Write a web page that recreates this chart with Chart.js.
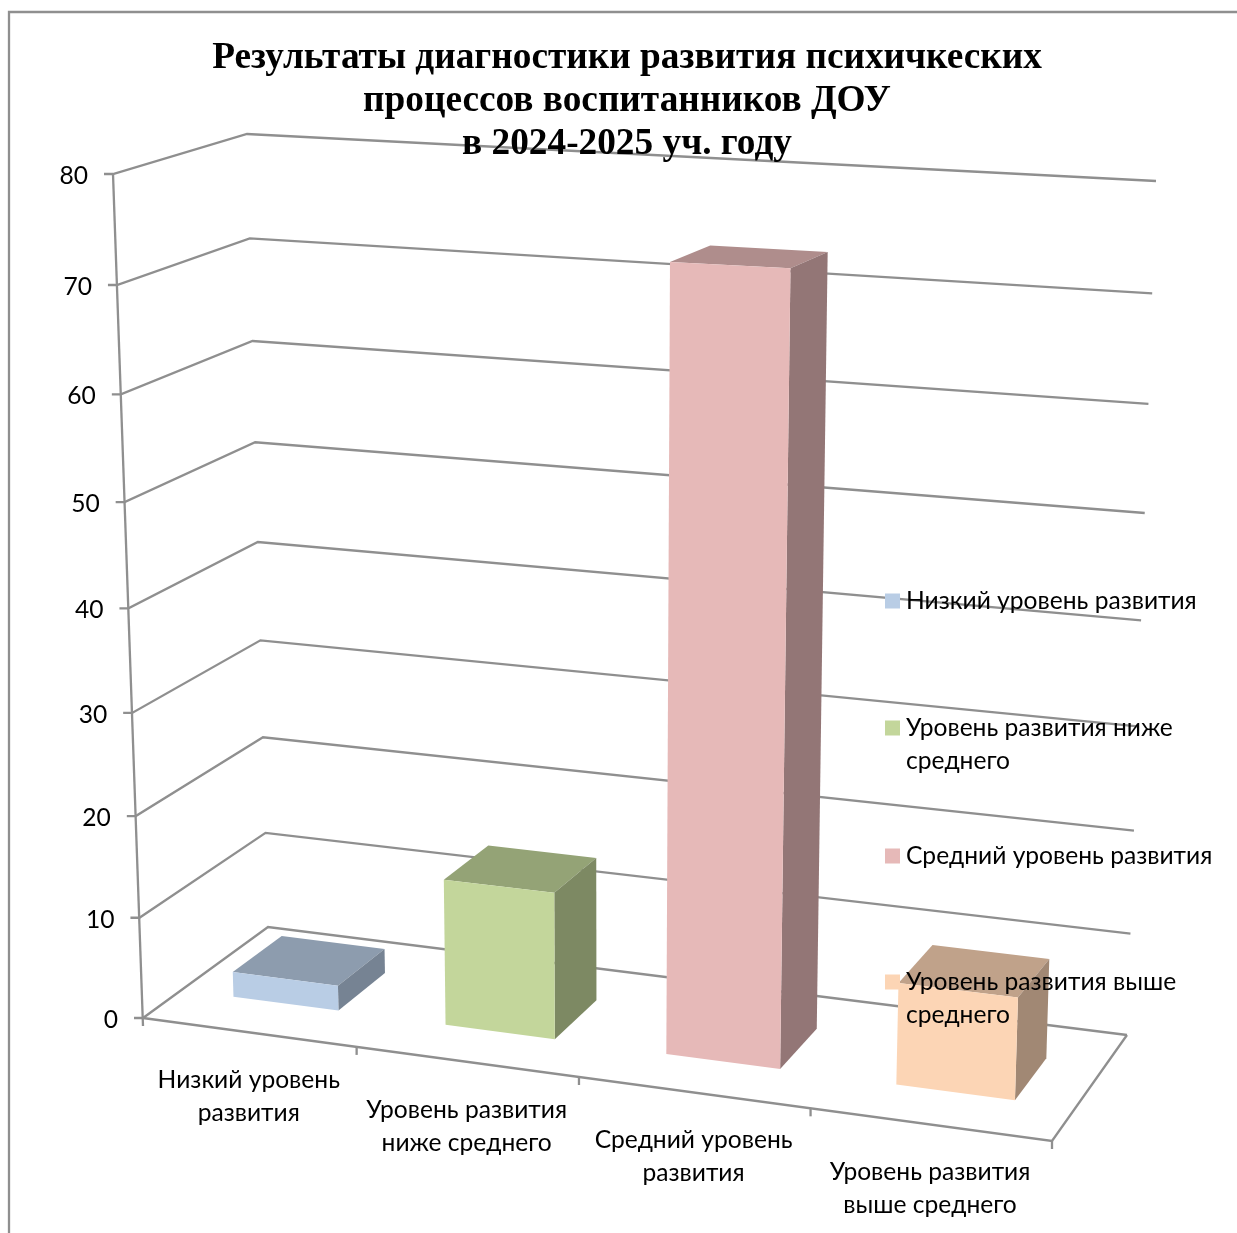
<!DOCTYPE html>
<html>
<head>
<meta charset="utf-8">
<style>html,body{margin:0;padding:0;background:#fff}canvas{display:block}</style>
<script src="https://cdn.jsdelivr.net/npm/chart.js@4"></script>
</head>
<body>
<canvas id="c" width="1237" height="1233"></canvas>
<script>
const titleLines = ['Результаты диагностики развития психичкеских', 'процессов воспитанников ДОУ', 'в 2024-2025 уч. году'];
const categories = [['Низкий уровень', 'развития'], ['Уровень развития', 'ниже среднего'], ['Средний уровень', 'развития'], ['Уровень развития', 'выше среднего']];
const values = [2.5, 14.3, 73.2, 9.6];
const legendLines = [['Низкий уровень развития'], ['Уровень развития ниже', 'среднего'], ['Средний уровень развития'], ['Уровень развития выше', 'среднего']];
const barColors = ['#B9CDE5', '#C3D69B', '#E6B9B8', '#FCD5B5'];

const LABEL_FONT = '24.6px Lato';
const LINE = '#8f8f8f';
// Corners of the 3D box as seen in the picture: [u][v][d]
const corners = {
  '000': [143, 1018], '010': [113, 174], '001': [268, 927], '011': [247, 134],
  '100': [1052, 1141], '110': [1083, 213], '101': [1127, 1035], '111': [1156, 181]
};
const warp = (t, k) => t / (1 + k * (1 - t));
function project(u, v, d) {
  const U = warp(u, 0.085), V = warp(v, 0.06), D = d;
  let x = 0, y = 0;
  for (const key in corners) {
    const w = (key[0] === '1' ? U : 1 - U) * (key[1] === '1' ? V : 1 - V) * (key[2] === '1' ? D : 1 - D);
    x += w * corners[key][0]; y += w * corners[key][1];
  }
  return [x, y];
}
function poly(ctx, pts, fill) {
  ctx.beginPath();
  pts.forEach((p, i) => i ? ctx.lineTo(p[0], p[1]) : ctx.moveTo(p[0], p[1]));
  ctx.closePath();
  ctx.fillStyle = fill; ctx.fill();
}
function shade(hex, f) {
  const n = parseInt(hex.slice(1), 16);
  return `rgb(${Math.round((n >> 16) * f)},${Math.round(((n >> 8) & 255) * f)},${Math.round((n & 255) * f)})`;
}
const D0 = 0.31, D1 = 0.71;

const box3d = {
  id: 'box3d',
  beforeDraw(chart) {
    const { ctx, scales: { x, y }, chartArea: a } = chart;
    const vOf = val => (a.bottom - y.getPixelForValue(val)) / a.height;
    ctx.save();
    ctx.fillStyle = '#fff'; ctx.fillRect(0, 0, chart.width, chart.height);
    ctx.strokeStyle = LINE; ctx.lineWidth = 2.3; ctx.lineJoin = 'miter';
    ctx.beginPath(); ctx.moveTo(9, 1233); ctx.lineTo(9, 12); ctx.lineTo(1237, 12); ctx.stroke();
    ctx.font = LABEL_FONT; ctx.textAlign = 'right'; ctx.textBaseline = 'middle';
    y.ticks.forEach(t => {
      const v = vOf(t.value);
      const p0 = project(0, v, 0), p1 = project(0, v, 1), p2 = project(1, v, 1);
      ctx.beginPath();
      ctx.moveTo(p0[0] - 9, p0[1]); ctx.lineTo(p0[0], p0[1]); ctx.lineTo(p1[0], p1[1]); ctx.lineTo(p2[0], p2[1]);
      ctx.stroke();
      ctx.fillStyle = '#000';
      ctx.fillText(String(t.value), p0[0] - 25, p0[1] + 2);
    });
    const base = project(0, 0, 0), top = project(0, 1, 0);
    ctx.beginPath(); ctx.moveTo(top[0], top[1]); ctx.lineTo(base[0], base[1] + 8); ctx.stroke();
    const fr = project(1, 0, 0), br = project(1, 0, 1);
    ctx.beginPath(); ctx.moveTo(base[0], base[1]); ctx.lineTo(fr[0], fr[1]); ctx.lineTo(br[0], br[1]); ctx.stroke();
    const n = categories.length;
    for (let i = 1; i <= n; i++) {
      const p = project(i / n, 0, 0);
      ctx.beginPath(); ctx.moveTo(p[0], p[1]); ctx.lineTo(p[0], p[1] + 8); ctx.stroke();
    }
    ctx.textAlign = 'center';
    x.getLabels().forEach((lab, i) => {
      const p = project((x.getPixelForValue(i) - a.left) / a.width, 0, 0);
      ctx.fillStyle = '#000';
      lab.forEach((l, j) => ctx.fillText(l, p[0], p[1] + 48 + j * 33));
    });
    ctx.restore();
  },
  beforeDatasetsDraw(chart) {
    const { ctx, chartArea: a } = chart;
    const meta = chart.getDatasetMeta(0);
    meta.data.forEach(el => {
      const c = el.options.backgroundColor;
      const u0 = (el.x - el.width / 2 - a.left) / a.width, u1 = (el.x + el.width / 2 - a.left) / a.width;
      const v = (el.base - el.y) / a.height;
      poly(ctx, [project(u0, v, D0), project(u1, v, D0), project(u1, v, D1), project(u0, v, D1)], shade(c, 0.76));
      poly(ctx, [project(u1, 0, D0), project(u1, v, D0), project(u1, v, D1), project(u1, 0, D1)], shade(c, 0.64));
      poly(ctx, [project(u0, 0, D0), project(u1, 0, D0), project(u1, v, D0), project(u0, v, D0)], c);
    });
    return false;
  },
  afterDraw(chart) {
    const { ctx } = chart;
    const rows = [601, 728, 856, 982];
    ctx.save();
    ctx.font = LABEL_FONT; ctx.textAlign = 'left'; ctx.textBaseline = 'middle';
    legendLines.forEach((lines, i) => {
      ctx.fillStyle = barColors[i];
      ctx.fillRect(885, rows[i] - 7.5, 15, 15);
      ctx.fillStyle = '#000';
      lines.forEach((l, j) => ctx.fillText(l, 906, rows[i] + j * 33));
    });
    ctx.restore();
  }
};

new Chart(document.getElementById('c'), {
  type: 'bar',
  data: { labels: categories, datasets: [{ data: values, backgroundColor: barColors, categoryPercentage: 0.5, barPercentage: 1 }] },
  options: {
    responsive: false, animation: false, devicePixelRatio: 1,
    layout: { padding: { top: 12, left: 113, right: 96, bottom: 215 } },
    plugins: {
      legend: { display: false },
      tooltip: { enabled: false },
      title: { display: true, text: titleLines, color: '#000', font: { family: '"Liberation Serif"', size: 37.3, weight: 'bold', lineHeight: 1.153 }, padding: { top: 24.5, bottom: 7.5 } }
    },
    scales: {
      x: { display: false },
      y: { display: false, min: 0, max: 80, ticks: { stepSize: 10 } }
    }
  },
  plugins: [box3d]
});
</script>
</body>
</html>
